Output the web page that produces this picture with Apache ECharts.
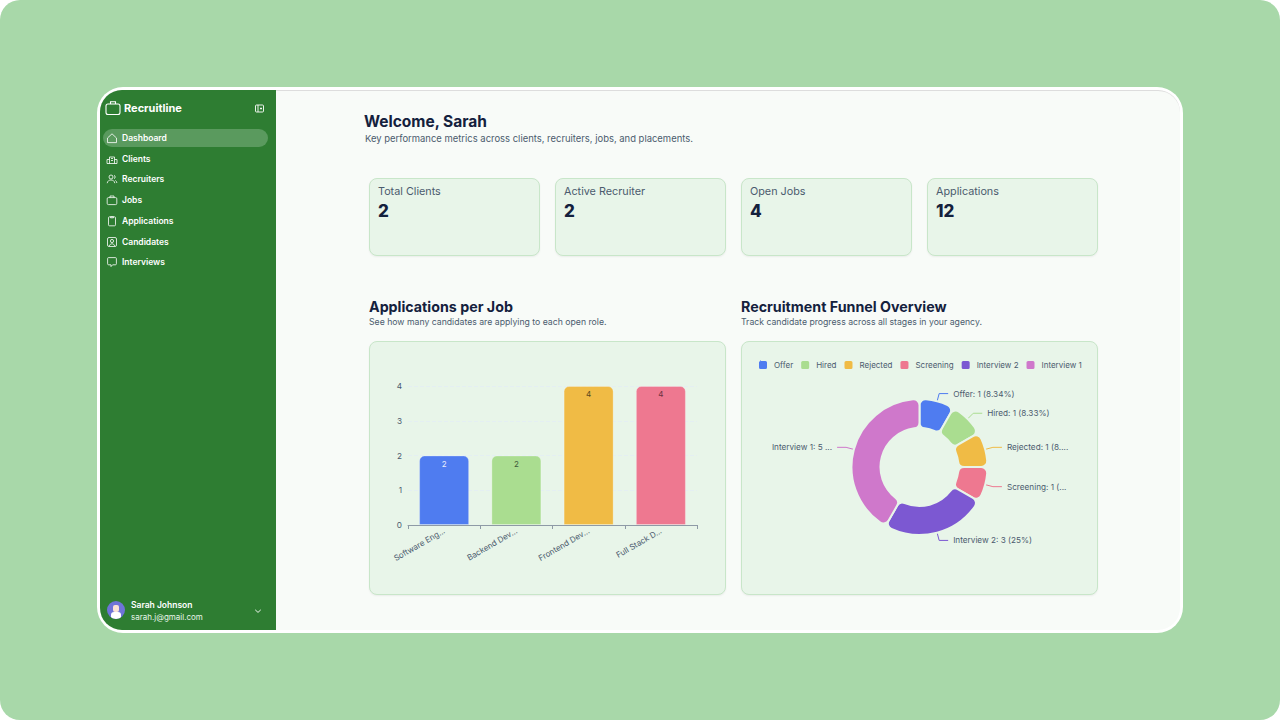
<!DOCTYPE html>
<html><head><meta charset="utf-8">
<script src="https://cdn.jsdelivr.net/npm/echarts@6/dist/echarts.min.js"></script>
<style>
*{box-sizing:border-box;margin:0;padding:0}
html,body{width:1280px;height:720px;overflow:hidden;background:#fff;font-family:Inter,"Noto Sans",sans-serif}
.abs{position:absolute}
#bg{left:0;top:0;width:1280px;height:720px;background:#a8d8a9;border-radius:20px}
#frame{left:97px;top:87px;width:1086px;height:546px;background:#fff;border-radius:26px}
#main{left:100px;top:90px;width:1080px;height:540px;background:#f8fbf8;border-radius:22px;overflow:hidden;border-top:1px solid #ddd}
#side{left:100px;top:90px;width:176px;height:540px;background:#2e7d32;border-radius:22px 0 0 22px}
.nav{left:103px;width:165px;height:18px;border-radius:9px;color:#fff;font-size:8.5px;font-weight:600;line-height:18px;padding-left:19px}
.nav svg{position:absolute;left:3px;top:3px}
.nav.on{background:#5a9a5e}
.card{background:#e8f5e9;border:1px solid #c8e6c9;border-radius:8px;box-shadow:0 1px 2px rgba(0,0,0,.06)}
.stat{top:178px;width:171px;height:78px}
.stat b{position:absolute;left:8px;top:22px;font-size:17px;font-weight:800;color:#14213d}
.stat span{position:absolute;left:8px;top:6px;font-size:10.8px;color:#4b5b6e}
.h{font-weight:700;color:#14213d;white-space:nowrap}
.s{color:#4b5b6e;font-size:8.7px;white-space:nowrap}
</style></head><body>
<div class="abs" id="bg"></div><div class="abs" id="frame"></div><div class="abs" id="main"></div><div class="abs" id="side"></div>

<svg class="abs" style="left:105px;top:100px" width="16" height="16" viewBox="0 0 16 16" fill="none" stroke="#fff" stroke-width="1.1"><rect x="1" y="4" width="14" height="10.5" rx="2"/><path d="M5.5 4V1.8h5V4"/></svg>
<div class="abs" style="left:124px;top:101px;color:#fff;font-size:11px;font-weight:700">Recruitline</div>
<svg class="abs" style="left:255px;top:104px" width="9" height="9" viewBox="0 0 9 9" fill="none" stroke="#fff" stroke-width=".9"><rect x=".5" y="1" width="8" height="7" rx="1"/><path d="M3 1v7M5 4.5h2M6 3.5v2"/></svg>

<div id="navs"></div>

<div class="abs" style="left:107px;top:601px;width:18px;height:18px;border-radius:50%;background:#6f74d8;overflow:hidden"><div class="abs" style="left:6px;top:4px;width:6px;height:7px;background:#fbe3d6;border-radius:2px"></div><div class="abs" style="left:4px;top:11px;width:10px;height:8px;background:#fff;border-radius:3px"></div></div>
<div class="abs" style="left:131px;top:600px;color:#fff;font-size:8.5px;font-weight:600">Sarah Johnson</div>
<div class="abs" style="left:131px;top:612px;color:#e8f5e9;font-size:8px">sarah.j@gmail.com</div>
<svg class="abs" style="left:254px;top:607px" width="8" height="8" viewBox="0 0 8 8" fill="none" stroke="#fff" stroke-width=".9"><path d="M1.2 2.8 4 5.4l2.8-2.6"/></svg>

<div class="abs h" style="left:364px;top:112px;font-size:15.5px">Welcome, Sarah</div>
<div class="abs s" style="left:365px;top:133px;font-size:9.45px">Key performance metrics across clients, recruiters, jobs, and placements.</div>

<div id="stats"></div>

<div class="abs h" style="left:369px;top:298px;font-size:14.25px">Applications per Job</div>
<div class="abs s" style="left:369px;top:317px">See how many candidates are applying to each open role.</div>
<div class="abs h" style="left:741px;top:298px;font-size:14.25px">Recruitment Funnel Overview</div>
<div class="abs s" style="left:741px;top:317px">Track candidate progress across all stages in your agency.</div>

<div class="abs card" style="left:369px;top:341px;width:357px;height:254px"></div>
<div class="abs card" style="left:741px;top:341px;width:357px;height:254px"></div>
<div class="abs" id="barChart" style="left:369px;top:341px;width:357px;height:254px"></div>
<div class="abs" id="pieChart" style="left:741px;top:341px;width:357px;height:254px"></div>

<script>
const navItems = ['Dashboard','Clients','Recruiters','Jobs','Applications','Candidates','Interviews'];
const statLabels = ['Total Clients','Active Recruiter','Open Jobs','Applications'];
const statValues = [2,2,4,12];
const jobCategories = ['Software Eng...','Backend Dev...','Frontend Dev...','Full Stack D...'];
const jobApplications = [2,2,4,4];
const barColors = ['#4f7cf0','#aadd90','#f0bb45','#ee7890'];
const barLabelColors = ['#e8eefc','#3f5a3a','#5a4a20','#6a3040'];
const stageNames = ['Offer','Hired','Rejected','Screening','Interview 2','Interview 1'];
const stageValues = [1,1,1,1,3,5];
const stageColors = ['#4f7cf0','#aadd90','#f0bb45','#ee7890','#7c58d2','#cf78cb'];

const navIcons = [
 '<path d="M1.5 6 6 1.8 10.5 6v4.6h-9z"/>',
 '<path d="M3.5 10.5V4h5v6.5M1 10.5V6.5h2.5M8.5 6.5H11v4M1 10.5h10M5 5.5h2M5 7.5h2"/>',
 '<circle cx="5" cy="4" r="2"/><path d="M1.2 10.2c.4-2.4 2-3.2 3.8-3.2s3.4.8 3.8 3.2M8 2.2a2 2 0 0 1 0 3.6M9.4 7.4c.8.5 1.3 1.4 1.5 2.6"/>',
 '<rect x="1.2" y="3.6" width="9.6" height="7" rx="1.2"/><path d="M4 3.6V2h4v1.6"/>',
 '<rect x="2.5" y="1.8" width="7" height="9" rx="1"/><path d="M4.5 1.8h3v1h-3z"/>',
 '<rect x="1.5" y="1.5" width="9" height="9" rx="1.5"/><circle cx="6" cy="5" r="1.6"/><path d="M3.4 10c.3-1.5 1.3-2.2 2.6-2.2s2.3.7 2.6 2.2"/>',
 '<path d="M1.6 2.6a1 1 0 0 1 1-1h6.8a1 1 0 0 1 1 1v5.2a1 1 0 0 1-1 1H6.6L5 10.6V8.8H2.6a1 1 0 0 1-1-1z"/>'
];
document.getElementById('navs').innerHTML = navItems.map((n,i)=>
 `<div class="abs nav${i===0?' on':''}" style="top:${129+i*20.7}px"><svg width="12" height="12" viewBox="0 0 12 12" fill="none" stroke="#fff" stroke-width=".8">${navIcons[i]}</svg>${n}</div>`).join('');
document.getElementById('stats').innerHTML = statLabels.map((l,i)=>
 `<div class="abs card stat" style="left:${369+i*186}px"><span>${l}</span><b>${statValues[i]}</b></div>`).join('');

const font = 'Inter';
const barChart = echarts.init(document.getElementById('barChart'), null, {renderer:'svg'});
barChart.setOption({
  animation:false, textStyle:{fontFamily:font},
  grid:{left:39,right:29,top:45,bottom:70},
  xAxis:{type:'category',data:jobCategories,
    axisLine:{lineStyle:{color:'#8e9aa6',width:1}},axisTick:{show:true,length:4,lineStyle:{color:'#8e9aa6'}},
    axisLabel:{rotate:30,fontSize:8,color:'#4b5b6e',margin:5,interval:0}},
  yAxis:{type:'value',min:0,max:4,interval:1,
    axisLine:{show:false},axisTick:{show:false},
    axisLabel:{fontSize:8.2,color:'#4b5b6e',margin:6},
    splitLine:{lineStyle:{color:'#e4eff2',type:'dashed',width:1}}},
  series:[{type:'bar',barWidth:50,
    data:jobApplications.map((v,i)=>({value:v,
      itemStyle:{color:barColors[i],borderRadius:[5,5,0,0],borderColor:'rgba(255,255,255,.25)',borderWidth:1},
      label:{color:barLabelColors[i]}})),
    label:{show:true,position:'insideTop',fontSize:8,distance:4}}]
});

const pieChart = echarts.init(document.getElementById('pieChart'), null, {renderer:'svg'});
pieChart.setOption({
  animation:false, textStyle:{fontFamily:font},
  legend:{top:18,left:16,padding:0,itemWidth:10,itemHeight:10,itemGap:6,icon:'roundRect',
    textStyle:{fontSize:8,color:'#4b5b6e',padding:[0,0,0,1]},data:stageNames},
  series:[{type:'pie',left:16,right:16,top:0,bottom:0,
    center:['50%',126],radius:[39,68],startAngle:90,percentPrecision:2,
    itemStyle:{borderRadius:6,borderColor:'#e8f5e9',borderWidth:2},
    label:{formatter:'{b}: {c} ({d}%)',fontSize:8.2,color:'#4b5b6e'},
    labelLine:{length:8,length2:9,lineStyle:{width:1}},
    data:stageNames.map((n,i)=>({name:n,value:stageValues[i],itemStyle:{color:stageColors[i]}}))}]
});
</script>
</body></html>
